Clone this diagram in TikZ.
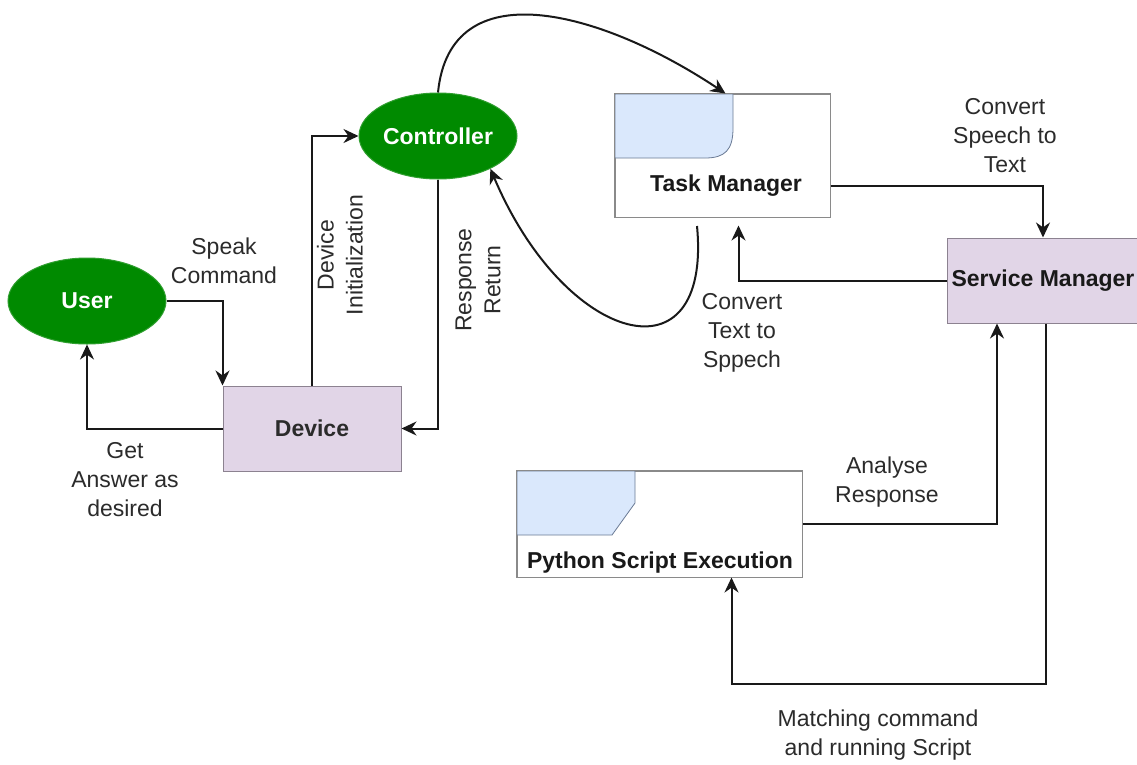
\documentclass[tikz,border=0pt]{standalone}
\usepackage{fontspec}
\setmainfont{Liberation Sans}
\usetikzlibrary{shapes.geometric,arrows.meta,calc}
\definecolor{ugreen}{HTML}{008A00}
\definecolor{ugreenb}{HTML}{2F9E2F}
\definecolor{lav}{HTML}{E1D5E7}
\definecolor{lavb}{HTML}{8C8290}
\definecolor{pblue}{HTML}{DAE8FC}
\definecolor{pblueb}{HTML}{6A7A95}
\definecolor{txt}{HTML}{2B2B2B}
\definecolor{boxb}{HTML}{8A8A8A}
\begin{document}
\begin{tikzpicture}[x=1pt,y=-1pt,
  actor/.style={ellipse, fill=ugreen, draw=ugreenb, line width=1pt, text=white,
    font=\fontsize{23}{28}\selectfont\bfseries, minimum width=158, minimum height=86, inner sep=0},
  lavbox/.style={rectangle, fill=lav, draw=lavb, line width=1pt, inner sep=0,
    text=txt, font=\fontsize{23}{28}\selectfont\bfseries},
  wbox/.style={rectangle, fill=white, draw=boxb, line width=1pt, inner sep=0},
  boxtext/.style={font=\fontsize{23}{28}\selectfont\bfseries, text=black!90, inner sep=0},
  lbl/.style={font=\fontsize{23}{29}\selectfont, text=txt, align=center, inner sep=0},
  conn/.style={line width=2pt, draw=black!90, -{Stealth[length=15,width=14]}},
]
\useasboundingbox (0,0) rectangle (1137,764);
\fill[white] (0,0) rectangle (1137,764);

% nodes
\node[actor] (user) at (87,301) {User};
\node[actor] (ctrl) at (438,136) {Controller};
\node[lavbox, minimum width=178, minimum height=85] (dev) at (312,428.5) {Device};
\node[wbox, minimum width=215, minimum height=123] (tm) at (722.5,155.5) {};
\node[lavbox, minimum width=192, minimum height=85] (sm) at (1043,280.5) {};
\node[wbox, minimum width=285, minimum height=106] (py) at (659.5,524) {};

% inner card shapes
\filldraw[fill=pblue, draw=pblueb, line width=0.8pt]
  (615,94) -- (733,94) -- (733,128) .. controls (733,150) and (725,158) .. (705,158) -- (615,158) -- cycle;
\filldraw[fill=pblue, draw=pblueb, line width=0.8pt]
  (517,471) -- (635,471) -- (635,503) -- (612,535) -- (517,535) -- cycle;
\draw[boxb, line width=1pt] (tm.north west) rectangle (tm.south east);
\draw[boxb, line width=1pt] (py.north west) rectangle (py.south east);

\node[boxtext] (tmlabel) at (726,186) {Task Manager};
\node[boxtext] (pylabel) at (660,563) {Python Script Execution};
\node[boxtext] (smlabel) at (1043,281) {Service Manager};

% connectors
\draw[conn] (user.east) -| (dev.north west);
\draw[conn] (dev.west) -| (user.south);
\draw[conn] (dev.north) |- (ctrl.west);
\draw[conn] (ctrl.south) |- (dev.east);
\draw[conn] (ctrl.north) .. controls (450,-30) and (600,10) .. ($(tm.north)+(3,0)$);
\coordinate (tmloop) at (697,226);
\draw[conn] (tmloop) .. controls (712,385) and (565,345) .. (ctrl.-32);
\draw[conn] (tm.south east) ++(0,-32) -| (sm.north);
\draw[conn, shorten >=8pt] (sm.west) -| ($(tm.south)+(16,0)$);
\draw[conn] (py.east) -| ($(sm.south)+(-46,0)$);
\draw[conn] ($(sm.south)+(3,0)$) -- ++(0,360) -| ($(py.south)+(72,0)$);

% labels
\node[lbl] (l1) at (224,261) {Speak\\Command};
\node[lbl] (l2) at (125,480) {Get\\Answer as\\desired};
\node[lbl, rotate=90] (l3) at (340,255) {Device\\Initialization};
\node[lbl, rotate=90] (l4) at (478,280) {Response\\Return};
\node[lbl] (l5) at (742,333) {Convert\\Text to\\Sppech};
\node[lbl] (l6) at (1005,136) {Convert\\Speech to\\Text};
\node[lbl] (l7) at (887,482) {Analyse\\Response};
\node[lbl] (l8) at (878,735) {Matching command\\and running Script};
\end{tikzpicture}
\end{document}
